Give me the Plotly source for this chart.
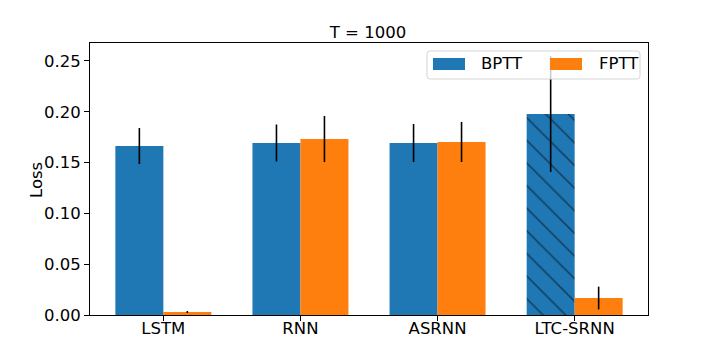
import plotly.graph_objects as go

models = ["LSTM", "RNN", "ASRNN", "LTC-SRNN"]
bptt_loss = [0.1663, 0.1693, 0.1693, 0.1978]
bptt_err = [0.0177, 0.0182, 0.0187, 0.0570]
fptt_loss = [0.0030, 0.1732, 0.1703, 0.0167]
fptt_err = [0.0010, 0.0227, 0.0197, 0.0112]
y_ticks = [0.00, 0.05, 0.10, 0.15, 0.20, 0.25]
series_names = ["BPTT", "FPTT"]
colors = ["#1f77b4", "#ff7f0e"]

w = 0.35
xs = list(range(len(models)))

fig = go.Figure()
fig.add_trace(go.Bar(
    x=[i - w / 2 for i in xs], y=bptt_loss, width=w, name=series_names[0],
    marker=dict(color=colors[0], line=dict(width=0),
                pattern=dict(shape=["", "", "", "\\"], fgcolor="black",
                             fillmode="overlay", size=16, solidity=0.09)),
    error_y=dict(type="data", array=bptt_err, color="black", thickness=1.6, width=0),
    showlegend=False,
))
fig.add_trace(go.Bar(
    x=[i + w / 2 for i in xs], y=fptt_loss, width=w, name=series_names[1],
    marker=dict(color=colors[1], line=dict(width=0)),
    error_y=dict(type="data", array=fptt_err, color="black", thickness=1.6, width=0),
    showlegend=False,
))

# page body has an 8px margin, so the figure is drawn 8px smaller and shifted
OFF = 8
W, H = 720 - OFF, 360 - OFF
# plot area in page pixels: x 90..648, y 43..315
L, R, T, B = 90 - OFF, 720 - 648, 43 - OFF, 360 - 315
pw, ph = W - L - R, H - T - B


def px(x):
    return (x - OFF - L) / pw


def py(y):
    return (H - B - (y - OFF)) / ph


# legend drawn by hand (matplotlib-style wide swatches, two columns)
bx0, bx1, by0, by1, rr = px(427), px(640), py(51), py(79), 3
rx, ry = rr / pw, rr / ph
path = (f"M {bx0 + rx} {by0} L {bx1 - rx} {by0} Q {bx1} {by0} {bx1} {by0 - ry} "
        f"L {bx1} {by1 + ry} Q {bx1} {by1} {bx1 - rx} {by1} "
        f"L {bx0 + rx} {by1} Q {bx0} {by1} {bx0} {by1 + ry} "
        f"L {bx0} {by0 - ry} Q {bx0} {by0} {bx0 + rx} {by0} Z")
fig.add_shape(type="path", xref="paper", yref="paper", path=path,
              line=dict(color="#d5d5d5", width=1), fillcolor="rgba(255,255,255,0.8)",
              layer="above")
for name, col, sx, tx in zip(series_names, colors, [433, 550], [479, 597]):
    fig.add_shape(type="rect", xref="paper", yref="paper",
                  x0=px(sx), x1=px(sx + 32), y0=py(70), y1=py(58),
                  line=dict(width=0), fillcolor=col, layer="above")
    fig.add_annotation(text=name, xref="paper", yref="paper", x=px(tx), y=py(64),
                       xanchor="left", yanchor="middle", showarrow=False,
                       font=dict(size=16.5))

# y axis title
fig.add_annotation(text="Loss", xref="paper", yref="paper", x=px(36), y=py(180),
                   xanchor="center", yanchor="middle", textangle=-90, showarrow=False,
                   font=dict(size=16.5))

fig.update_layout(
    width=W, height=H,
    margin=dict(l=L, r=R, t=T, b=B),
    plot_bgcolor="white", paper_bgcolor="white",
    barmode="overlay",
    font=dict(family="DejaVu Sans", size=16.5, color="black"),
    title=dict(text="T = 1000", x=px(368), xref="paper", xanchor="center",
               y=1 - (32 - OFF) / H, yanchor="middle", font=dict(size=16.5)),
    showlegend=False,
)
fig.update_xaxes(
    range=[-0.535, 3.535], tickmode="array", tickvals=xs, ticktext=models,
    showline=True, linecolor="black", linewidth=1, mirror=True, automargin=False,
    ticks="outside", ticklen=5, tickcolor="black", showgrid=False, zeroline=False,
    ticklabelstandoff=-7,
)
fig.update_yaxes(
    range=[0, 0.2677], tickmode="array", tickvals=y_ticks,
    ticktext=[f"{v:.2f}" for v in y_ticks], automargin=False,
    showline=True, linecolor="black", linewidth=1, mirror=True,
    ticks="outside", ticklen=5, tickcolor="black", showgrid=False, zeroline=False,
)

fig.write_html("out.html")
